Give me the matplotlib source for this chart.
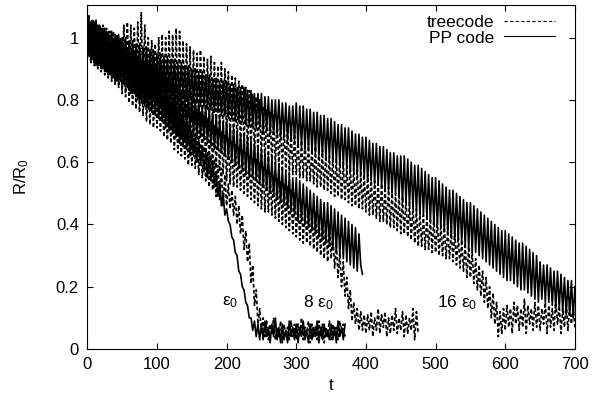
import matplotlib
matplotlib.use("Agg")
import matplotlib.pyplot as plt
import numpy as np

plt.rcParams["font.family"] = ["Liberation Sans", "DejaVu Sans"]
plt.rcParams["mathtext.fontset"] = "custom"
plt.rcParams["mathtext.rm"] = "Liberation Sans"
plt.rcParams["mathtext.it"] = "Liberation Sans"

# sampling step of the curves (time units)
dt = 2.5

# eps0 runs (t = 0 .. 370)
eps0_pp = [
    1.05, 0.94, 1.03, 0.93, 1.04, 0.91, 1.02, 0.91, 1.00, 0.90,
    1.01, 0.89, 0.99, 0.88, 0.98, 0.87, 0.98, 0.86, 0.96, 0.86,
    0.95, 0.85, 0.94, 0.84, 0.93, 0.82, 0.92, 0.82, 0.90, 0.80,
    0.90, 0.79, 0.88, 0.78, 0.88, 0.77, 0.86, 0.76, 0.85, 0.75,
    0.84, 0.74, 0.83, 0.73, 0.81, 0.71, 0.80, 0.70, 0.79, 0.69,
    0.77, 0.68, 0.76, 0.66, 0.75, 0.65, 0.73, 0.64, 0.72, 0.62,
    0.70, 0.62, 0.68, 0.60, 0.67, 0.59, 0.65, 0.57, 0.63, 0.55,
    0.62, 0.54, 0.60, 0.52, 0.57, 0.49, 0.54, 0.46, 0.50, 0.43,
    0.45, 0.41, 0.40, 0.36, 0.35, 0.31, 0.30, 0.25, 0.24, 0.20,
    0.19, 0.15, 0.14, 0.10, 0.10, 0.06, 0.09, 0.04, 0.08, 0.03,
    0.08, 0.03, 0.09, 0.04, 0.07, 0.02, 0.08, 0.04, 0.10, 0.03,
    0.07, 0.02, 0.08, 0.03, 0.06, 0.02, 0.09, 0.04, 0.07, 0.03,
    0.08, 0.02, 0.07, 0.04, 0.09, 0.03, 0.06, 0.02, 0.08, 0.03,
    0.07, 0.04, 0.09, 0.02, 0.07, 0.03, 0.08, 0.04, 0.06, 0.03,
    0.08, 0.03, 0.07, 0.02, 0.09, 0.04, 0.07, 0.03, 0.08,
]
eps0_tree = [
    0.93, 1.07, 0.92, 1.05, 0.91, 1.06, 0.90, 1.04, 0.89, 1.03,
    0.88, 1.02, 0.87, 1.01, 0.86, 0.99, 0.85, 0.99, 0.84, 0.97,
    0.82, 0.96, 0.81, 0.95, 0.79, 0.93, 0.78, 0.92, 0.77, 0.91,
    0.76, 0.90, 0.75, 0.89, 0.73, 0.87, 0.72, 0.86, 0.71, 0.85,
    0.71, 0.83, 0.70, 0.82, 0.68, 0.80, 0.67, 0.79, 0.66, 0.78,
    0.64, 0.76, 0.63, 0.75, 0.62, 0.74, 0.61, 0.72, 0.59, 0.71,
    0.59, 0.69, 0.58, 0.68, 0.56, 0.66, 0.55, 0.65, 0.54, 0.63,
    0.52, 0.62, 0.51, 0.61, 0.49, 0.59, 0.48, 0.58, 0.46, 0.56,
    0.46, 0.53, 0.45, 0.51, 0.43, 0.49, 0.40, 0.46, 0.37, 0.43,
    0.32, 0.38, 0.28, 0.34, 0.21, 0.27, 0.14, 0.19, 0.08, 0.13,
    0.05, 0.10, 0.04, 0.09, 0.03, 0.08, 0.05, 0.10, 0.03, 0.07,
    0.04, 0.09, 0.02, 0.08, 0.04, 0.07, 0.03, 0.09, 0.04, 0.08,
    0.03, 0.08, 0.04, 0.10, 0.03, 0.07, 0.05, 0.09, 0.02, 0.08,
    0.04, 0.07, 0.03, 0.09, 0.04, 0.08, 0.02, 0.07, 0.04, 0.09,
    0.03, 0.08, 0.04, 0.07, 0.03, 0.09, 0.05, 0.08, 0.04,
]

# 8 eps0 runs (PP to t = 395, treecode to t = 475)
eps8_pp = [
    1.06, 0.95, 1.05, 0.94, 1.04, 0.93, 1.03, 0.92, 1.02, 0.91,
    1.02, 0.90, 1.01, 0.90, 1.00, 0.89, 0.99, 0.88, 0.98, 0.87,
    0.98, 0.86, 0.97, 0.86, 0.96, 0.85, 0.95, 0.84, 0.95, 0.83,
    0.94, 0.82, 0.93, 0.81, 0.92, 0.81, 0.91, 0.80, 0.90, 0.79,
    0.90, 0.78, 0.89, 0.77, 0.88, 0.76, 0.87, 0.75, 0.86, 0.75,
    0.85, 0.74, 0.84, 0.73, 0.83, 0.72, 0.82, 0.71, 0.82, 0.70,
    0.81, 0.69, 0.80, 0.68, 0.79, 0.68, 0.78, 0.67, 0.78, 0.66,
    0.77, 0.65, 0.76, 0.64, 0.75, 0.64, 0.74, 0.63, 0.73, 0.62,
    0.73, 0.61, 0.72, 0.60, 0.71, 0.59, 0.70, 0.58, 0.69, 0.57,
    0.69, 0.56, 0.68, 0.55, 0.67, 0.55, 0.66, 0.54, 0.65, 0.53,
    0.64, 0.52, 0.63, 0.51, 0.62, 0.50, 0.61, 0.49, 0.60, 0.48,
    0.59, 0.47, 0.58, 0.46, 0.57, 0.45, 0.56, 0.44, 0.55, 0.43,
    0.55, 0.41, 0.54, 0.41, 0.53, 0.40, 0.52, 0.39, 0.51, 0.38,
    0.50, 0.37, 0.49, 0.36, 0.48, 0.35, 0.47, 0.34, 0.47, 0.33,
    0.46, 0.32, 0.45, 0.31, 0.44, 0.30, 0.43, 0.29, 0.42, 0.28,
    0.41, 0.27, 0.40, 0.26, 0.39, 0.25, 0.37, 0.27, 0.24,
]
eps8_tree = [
    0.94, 1.07, 0.92, 1.06, 0.92, 1.05, 0.91, 1.04, 0.90, 1.03,
    0.89, 1.02, 0.88, 1.01, 0.87, 1.00, 0.86, 1.00, 0.85, 0.99,
    0.84, 0.98, 0.83, 0.97, 0.83, 0.96, 0.82, 0.95, 0.81, 0.94,
    0.80, 0.93, 0.79, 0.92, 0.78, 0.91, 0.77, 0.90, 0.76, 0.89,
    0.74, 0.88, 0.73, 0.87, 0.73, 0.86, 0.72, 0.85, 0.71, 0.84,
    0.70, 0.83, 0.69, 0.82, 0.68, 0.81, 0.67, 0.80, 0.66, 0.79,
    0.64, 0.78, 0.63, 0.77, 0.63, 0.76, 0.62, 0.75, 0.61, 0.74,
    0.60, 0.73, 0.59, 0.72, 0.58, 0.71, 0.57, 0.70, 0.56, 0.69,
    0.54, 0.68, 0.53, 0.67, 0.52, 0.66, 0.52, 0.65, 0.51, 0.64,
    0.50, 0.63, 0.49, 0.62, 0.48, 0.61, 0.47, 0.61, 0.46, 0.60,
    0.45, 0.59, 0.44, 0.58, 0.44, 0.57, 0.43, 0.56, 0.42, 0.55,
    0.41, 0.54, 0.40, 0.53, 0.39, 0.52, 0.38, 0.51, 0.37, 0.50,
    0.36, 0.48, 0.35, 0.47, 0.34, 0.46, 0.34, 0.45, 0.33, 0.45,
    0.32, 0.44, 0.31, 0.43, 0.30, 0.42, 0.29, 0.41, 0.28, 0.40,
    0.29, 0.37, 0.26, 0.34, 0.23, 0.31, 0.20, 0.28, 0.17, 0.23,
    0.13, 0.19, 0.09, 0.15, 0.08, 0.13, 0.06, 0.12, 0.06, 0.11,
    0.05, 0.11, 0.06, 0.12, 0.04, 0.10, 0.06, 0.13, 0.05, 0.11,
    0.07, 0.12, 0.04, 0.10, 0.05, 0.11, 0.06, 0.13, 0.05, 0.10,
    0.06, 0.12, 0.04, 0.11, 0.05, 0.10, 0.06, 0.13, 0.03, 0.12,
    0.05,
]

# 16 eps0 runs (t = 0 .. 700)
eps16_pp = [
    1.06, 0.95, 1.05, 0.94, 1.05, 0.93, 1.04, 0.93, 1.03, 0.92,
    1.03, 0.92, 1.02, 0.91, 1.02, 0.91, 1.01, 0.90, 1.01, 0.90,
    1.00, 0.89, 1.00, 0.89, 0.99, 0.88, 0.99, 0.88, 0.98, 0.87,
    0.98, 0.87, 0.97, 0.86, 0.97, 0.86, 0.96, 0.85, 0.96, 0.85,
    0.95, 0.84, 0.95, 0.84, 0.94, 0.83, 0.94, 0.83, 0.93, 0.82,
    0.93, 0.82, 0.92, 0.81, 0.92, 0.81, 0.91, 0.80, 0.91, 0.80,
    0.90, 0.79, 0.90, 0.79, 0.89, 0.78, 0.89, 0.78, 0.88, 0.77,
    0.88, 0.77, 0.87, 0.76, 0.87, 0.76, 0.86, 0.75, 0.86, 0.75,
    0.86, 0.74, 0.85, 0.74, 0.85, 0.73, 0.84, 0.73, 0.84, 0.73,
    0.84, 0.72, 0.83, 0.72, 0.83, 0.71, 0.82, 0.71, 0.82, 0.71,
    0.82, 0.70, 0.81, 0.70, 0.81, 0.69, 0.80, 0.69, 0.80, 0.69,
    0.80, 0.68, 0.79, 0.68, 0.79, 0.67, 0.78, 0.67, 0.78, 0.67,
    0.79, 0.65, 0.78, 0.65, 0.78, 0.64, 0.77, 0.64, 0.77, 0.63,
    0.76, 0.63, 0.76, 0.62, 0.75, 0.62, 0.75, 0.61, 0.74, 0.61,
    0.74, 0.60, 0.73, 0.60, 0.72, 0.59, 0.72, 0.59, 0.71, 0.58,
    0.71, 0.57, 0.70, 0.57, 0.69, 0.56, 0.69, 0.56, 0.68, 0.55,
    0.68, 0.54, 0.67, 0.54, 0.66, 0.53, 0.66, 0.53, 0.65, 0.52,
    0.65, 0.51, 0.64, 0.51, 0.63, 0.50, 0.63, 0.50, 0.62, 0.49,
    0.62, 0.47, 0.62, 0.47, 0.61, 0.46, 0.60, 0.45, 0.59, 0.44,
    0.59, 0.43, 0.58, 0.43, 0.57, 0.42, 0.56, 0.41, 0.55, 0.40,
    0.55, 0.39, 0.54, 0.39, 0.53, 0.38, 0.52, 0.37, 0.51, 0.36,
    0.51, 0.35, 0.50, 0.35, 0.49, 0.34, 0.48, 0.33, 0.47, 0.32,
    0.47, 0.31, 0.46, 0.31, 0.45, 0.30, 0.44, 0.29, 0.43, 0.28,
    0.42, 0.27, 0.41, 0.26, 0.40, 0.25, 0.39, 0.24, 0.38, 0.23,
    0.38, 0.22, 0.37, 0.22, 0.36, 0.21, 0.35, 0.20, 0.34, 0.19,
    0.34, 0.19, 0.33, 0.18, 0.32, 0.17, 0.31, 0.16, 0.30, 0.15,
    0.28, 0.16, 0.27, 0.15, 0.27, 0.15, 0.26, 0.14, 0.25, 0.13,
    0.25, 0.13, 0.24, 0.12, 0.23, 0.11, 0.22, 0.11, 0.22, 0.10,
    0.20,
]
eps16_tree = [
    0.94, 1.07, 0.93, 1.06, 0.92, 1.05, 0.92, 1.04, 0.91, 1.04,
    0.90, 1.03, 0.89, 1.02, 0.89, 1.02, 0.88, 1.01, 0.87, 1.00,
    0.86, 1.04, 0.85, 1.05, 0.85, 1.04, 0.84, 1.03, 0.83, 1.05,
    0.83, 1.08, 0.82, 1.04, 0.81, 1.00, 0.80, 0.99, 0.80, 0.98,
    0.79, 1.00, 0.78, 1.01, 0.78, 1.00, 0.77, 1.02, 0.77, 1.01,
    0.76, 1.03, 0.75, 1.02, 0.75, 0.99, 0.74, 0.98, 0.74, 0.97,
    0.73, 0.96, 0.72, 0.95, 0.72, 0.96, 0.71, 0.94, 0.71, 0.93,
    0.70, 0.94, 0.69, 0.92, 0.69, 0.91, 0.68, 0.92, 0.68, 0.90,
    0.67, 0.89, 0.66, 0.88, 0.66, 0.87, 0.65, 0.86, 0.65, 0.85,
    0.64, 0.84, 0.63, 0.83, 0.63, 0.82, 0.62, 0.81, 0.62, 0.80,
    0.61, 0.78, 0.60, 0.77, 0.60, 0.76, 0.59, 0.75, 0.59, 0.74,
    0.58, 0.73, 0.57, 0.72, 0.57, 0.72, 0.56, 0.71, 0.56, 0.70,
    0.56, 0.68, 0.55, 0.67, 0.55, 0.67, 0.54, 0.66, 0.54, 0.65,
    0.53, 0.65, 0.52, 0.64, 0.52, 0.64, 0.51, 0.63, 0.51, 0.62,
    0.50, 0.62, 0.49, 0.61, 0.49, 0.61, 0.48, 0.60, 0.48, 0.59,
    0.47, 0.59, 0.46, 0.58, 0.46, 0.58, 0.45, 0.57, 0.45, 0.56,
    0.44, 0.56, 0.43, 0.55, 0.43, 0.54, 0.42, 0.54, 0.41, 0.53,
    0.41, 0.52, 0.40, 0.52, 0.39, 0.51, 0.39, 0.50, 0.38, 0.50,
    0.37, 0.49, 0.37, 0.48, 0.36, 0.47, 0.35, 0.46, 0.34, 0.45,
    0.33, 0.44, 0.33, 0.43, 0.32, 0.43, 0.32, 0.42, 0.31, 0.42,
    0.31, 0.41, 0.30, 0.40, 0.30, 0.40, 0.29, 0.39, 0.29, 0.38,
    0.28, 0.38, 0.27, 0.37, 0.26, 0.35, 0.25, 0.34, 0.23, 0.33,
    0.23, 0.31, 0.21, 0.29, 0.19, 0.27, 0.17, 0.25, 0.15, 0.23,
    0.13, 0.20, 0.10, 0.18, 0.08, 0.15, 0.04, 0.12, 0.05, 0.13,
    0.06, 0.14, 0.07, 0.13, 0.05, 0.15, 0.08, 0.14, 0.06, 0.13,
    0.07, 0.16, 0.05, 0.14, 0.08, 0.13, 0.06, 0.15, 0.07, 0.14,
    0.06, 0.13, 0.08, 0.15, 0.05, 0.14, 0.07, 0.13, 0.06, 0.16,
    0.08, 0.14, 0.05, 0.13, 0.07, 0.15, 0.06, 0.14, 0.08, 0.13,
    0.07,
]

runs = [
    (eps0_tree, "dashed"), (eps0_pp, "solid"),
    (eps8_tree, "dashed"), (eps8_pp, "solid"),
    (eps16_tree, "dashed"), (eps16_pp, "solid"),
]

labels = ["$\\varepsilon_0$", "8 $\\varepsilon_0$", "16 $\\varepsilon_0$"]
label_t = [205, 331, 531]
label_r = [0.15, 0.15, 0.15]

fig = plt.figure(figsize=(6.02, 4.04), dpi=100)
ax = fig.add_axes([0.145, 0.136, 0.81, 0.852])

dash = (0, (2.2, 1.4))
for vals, style in runs:
    t = np.arange(len(vals)) * dt
    ls = dash if style == "dashed" else "-"
    ax.plot(t, vals, color="black", lw=1.2, ls=ls)

# legend entries (gnuplot style: text then sample)
h1, = ax.plot([], [], color="black", lw=0.8, ls=(0, (3, 2)), label="treecode")
h2, = ax.plot([], [], color="black", lw=0.8, ls="-", label="PP code")
ax.legend(handles=[h1, h2], loc="upper right", frameon=False, markerfirst=False,
          fontsize=12.5, handlelength=2.9, labelspacing=0.0, handletextpad=0.6,
          borderaxespad=0.2, bbox_to_anchor=(0.98, 1.0))

for s, tt, rr in zip(labels, label_t, label_r):
    ax.text(tt, rr, s, fontsize=12.5, ha="center", va="center")

ax.set_xlim(0, 700)
ax.set_ylim(0, 1.105)
ax.set_xticks(np.arange(0, 701, 100))
ax.set_yticks([0, 0.2, 0.4, 0.6, 0.8, 1.0])
ax.set_yticklabels(["0", "0.2", "0.4", "0.6", "0.8", "1"])
ax.tick_params(direction="in", length=4, width=0.8, top=True, right=True,
               labelsize=12, pad=6)
for sp in ax.spines.values():
    sp.set_linewidth(0.8)

ax.set_xlabel("t", fontsize=12, labelpad=4)
ax.set_ylabel("R/R$_0$", fontsize=12, labelpad=18)

fig.savefig("out.png", dpi=100)
